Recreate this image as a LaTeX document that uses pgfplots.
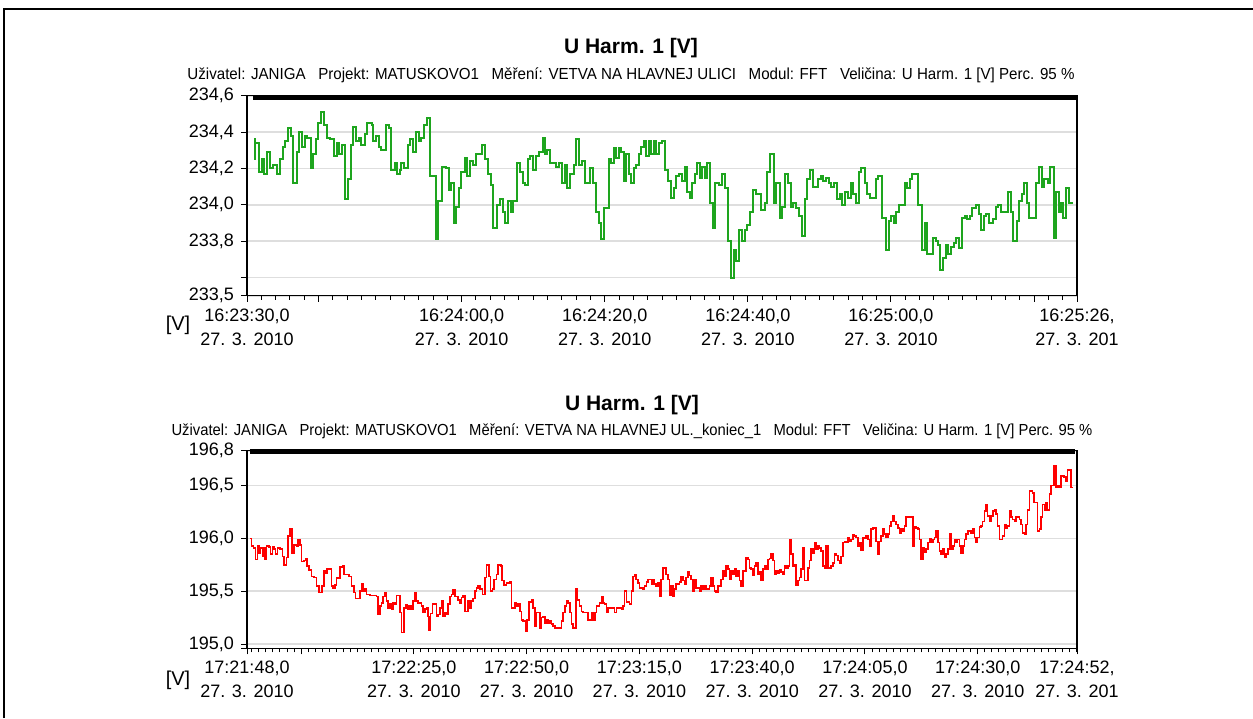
\documentclass[border=0pt]{standalone}
\usepackage{pgfplots}
\pgfplotsset{compat=1.18}
\usepackage{fontspec}
\setmainfont{Liberation Sans}

\definecolor{hgreen}{RGB}{30,165,30}
\definecolor{hred}{RGB}{255,0,0}
\definecolor{gridgray}{RGB}{222,222,222}

% 1 px of the reference = 0.5pt
\pgfplotsset{
  harm/.style={
    anchor=south west, scale only axis, width=415pt,
    tick align=outside, tick pos=left,
    major tick length=3pt, minor tick length=2pt,
    every tick/.append style={black, line width=0.5pt},
    every minor tick/.append style={black, line width=0.5pt},
    axis line style={black, line width=0.6pt},
    ymajorgrids, major grid style={gridgray, line width=0.8pt},
    tick label style={font=\fontsize{9}{12}\selectfont},
    xticklabel style={align=center},
    clip=false,
  }
}

\begin{document}
\begin{tikzpicture}
\useasboundingbox (0,0) rectangle (626.5pt,-359pt);
\draw[line width=1pt] (2pt,-359pt) -- (2pt,-4.5pt) -- (626.5pt,-4.5pt);

% ---------- top chart ----------
\node[font=\bfseries\fontsize{10.5}{12}\selectfont] at (315.5pt,-24pt) {U Harm. 1 [V]};
\node[font=\fontsize{8}{10}\selectfont] at (315.5pt,-37.5pt)
  {\scalebox{0.945}[1]{Uživatel: JANIGA\ \ \ Projekt: MATUSKOVO1\ \ \ Měření: VETVA NA HLAVNEJ ULICI\ \ \ Modul: FFT\ \ \ Veličina: U Harm. 1 [V] Perc. 95 \%}};
\node[font=\fontsize{10}{12}\selectfont] at (89pt,-162.5pt) {[V]};

\begin{axis}[harm,
  at={(123.5pt,-147.85pt)}, height=100pt,
  xmin=0, xmax=116, ymin=233.5, ymax=234.6,
  xtick={0,10,30,50,70,90,110,116},
  xticklabels={{16:23:30,0\\27. 3. 2010},{},{16:24:00,0\\27. 3. 2010},{16:24:20,0\\27. 3. 2010},{16:24:40,0\\27. 3. 2010},{16:25:00,0\\27. 3. 2010},{},{16:25:26,\\27. 3. 201}},
  minor xtick={2,4,...,114},
  ytick={233.5,233.6,233.8,234.0,234.2,234.4,234.6},
  yticklabels={{233,5},{},{233,8},{234,0},{234,2},{234,4},{234,6}},
]
\addplot[black, line width=2.5pt] coordinates {(0.8,234.59) (116,234.59)};
\addplot[hgreen, line width=1pt, const plot] coordinates {
(1.02,234.36) (1.10,234.25) (1.16,234.34) (1.67,234.18) (2.05,234.25) (2.42,234.17) (2.74,234.29) (3.21,234.20) (3.58,234.22) (4.14,234.17)
(4.60,234.25) (4.98,234.32) (5.30,234.35) (5.77,234.42) (6.09,234.38) (6.47,234.12) (6.93,234.29) (7.30,234.40) (7.67,234.32) (8.09,234.38)
(8.42,234.37) (8.88,234.20) (9.26,234.28) (9.58,234.36) (9.95,234.45) (10.28,234.51) (10.74,234.44) (11.12,234.37) (11.58,234.36) (12.14,234.27)
(12.51,234.34) (12.88,234.28) (13.21,234.33) (13.67,234.03) (14.14,234.14) (14.51,234.33) (14.84,234.43) (15.30,234.35) (15.67,234.37) (16.00,234.33)
(16.47,234.39) (16.79,234.45) (17.40,234.44) (17.63,234.35) (18.09,234.38) (18.47,234.32) (18.79,234.30) (19.49,234.44) (19.86,234.42) (20.19,234.19)
(20.65,234.23) (20.98,234.17) (21.35,234.19) (21.58,234.23) (21.95,234.20) (22.51,234.33) (22.84,234.36) (23.21,234.29) (23.67,234.40) (24.00,234.35)
(24.37,234.37) (24.74,234.44) (25.16,234.48) (25.53,234.16) (26.47,233.81) (26.74,234.02) (27.30,234.21) (27.86,234.20) (28.19,234.08) (28.56,234.12)
(28.88,233.90) (29.26,233.99) (29.63,234.09) (29.95,234.18) (30.42,234.26) (30.74,234.16) (31.21,234.24) (31.58,234.22) (32.05,234.28)
(32.78,234.33) (33.25,234.25) (33.71,234.17) (34.04,234.11) (34.41,233.87) (34.97,234.00) (35.34,234.03) (35.71,233.96) (36.04,233.90) (36.50,234.02)
(36.83,233.96) (37.20,234.02) (37.67,234.23) (38.13,234.18) (38.51,234.12) (38.83,234.11) (39.30,234.25) (39.62,234.27) (39.99,234.19) (40.37,234.27)
(40.83,234.29) (41.30,234.37) (41.62,234.28) (41.95,234.30) (42.32,234.23) (42.79,234.23) (43.25,234.21) (43.63,234.23) (44.09,234.12) (44.42,234.22)
(44.79,234.09) (45.21,234.17) (45.68,234.22) (46.05,234.36) (46.42,234.22) (46.75,234.24) (47.21,234.12) (47.91,234.20) (48.38,234.12) (48.75,233.96)
(49.17,233.90) (49.45,233.81) (49.91,233.98) (50.61,234.25) (50.94,234.23) (51.31,234.31) (51.63,234.26) (52.01,234.31) (52.33,234.29) (52.71,234.13)
(53.03,234.28) (53.36,234.17) (53.73,234.12) (54.05,234.20) (54.43,234.22) (54.80,234.28) (55.13,234.32) (55.45,234.35) (55.82,234.27) (56.20,234.35)
(56.52,234.28) (56.85,234.35) (57.22,234.28) (57.59,234.34) (58.01,234.35) (58.48,234.19) (58.85,234.13) (59.22,234.04) (59.64,234.09) (60.01,234.16)
(60.39,234.17) (60.81,234.13) (61.18,234.21) (61.55,234.07) (61.88,234.04) (62.25,234.12) (62.57,234.17) (62.95,234.23) (63.27,234.15) (63.60,234.21)
(63.97,234.15) (64.34,234.23) (64.67,234.01) (65.14,233.87) (65.46,234.12) (65.93,234.11) (66.39,234.17) (66.76,234.09) (67.23,233.80) (67.70,233.60)
(68.07,233.75) (68.39,233.69) (68.72,233.86) (69.23,233.80) (69.56,233.86) (69.88,233.89) (70.35,233.96) (70.72,234.08) (71.09,234.06) (71.89,233.97)
(72.35,234.01) (72.72,234.18) (73.05,234.28) (73.65,234.01) (73.98,234.12) (74.45,233.93) (74.77,233.99) (75.14,234.17) (75.61,234.12) (75.98,233.99)
(76.31,234.01) (76.77,233.98)
(77.14,233.94) (77.56,233.83) (77.94,234.03) (78.26,234.14) (78.73,234.19) (79.10,234.10) (79.80,234.14) (80.17,234.16) (80.50,234.13) (80.96,234.15)
(81.33,234.12) (81.66,234.10) (82.03,234.12) (82.45,234.03) (82.82,234.06) (83.15,234.00) (83.52,234.07) (83.99,234.04) (84.36,234.12) (84.69,234.06)
(85.15,234.01) (85.52,234.18) (85.85,234.20) (86.31,234.12) (86.69,234.06) (87.01,234.04) (87.85,234.14) (88.18,234.16) (88.78,233.93) (89.25,233.75)
(89.67,233.91) (90.04,233.94) (90.41,233.90) (90.74,233.96) (91.11,234.00) (91.90,234.12) (92.27,234.09) (92.60,234.14) (92.97,234.17) (93.76,234.00)
(94.32,233.75) (94.70,233.90) (95.07,233.73) (95.86,233.82) (96.23,233.80) (96.56,233.78) (96.88,233.64) (97.26,233.71) (97.63,233.78) (97.95,233.73)
(98.42,233.77) (98.75,233.79) (99.12,233.82) (99.49,233.76) (99.91,233.93) (100.28,233.94) (100.61,233.92) (100.98,233.94) (101.35,233.98) (101.82,234.00)
(102.24,233.95) (102.61,233.86) (102.98,233.94) (103.31,233.95) (103.77,233.90) (104.24,233.92) (104.61,233.99) (104.94,234.00) (105.40,233.96) (106.33,234.07)
(106.80,233.96) (107.12,233.80) (107.59,233.91) (107.96,234.02) (108.29,234.06) (108.66,234.12) (108.99,234.01) (109.36,233.93) (110.29,234.12) (110.66,234.21)
(111.08,234.10) (111.45,234.14) (111.92,234.12) (112.29,234.21) (112.76,233.82) (113.08,234.07) (113.46,233.96) (113.78,234.01) (114.11,233.93) (114.48,234.09)
(114.85,234.01) (115.41,234.01)
};
\end{axis}

% ---------- bottom chart ----------
\node[font=\bfseries\fontsize{10.5}{12}\selectfont] at (316pt,-202.5pt) {U Harm. 1 [V]};
\node[font=\fontsize{8}{10}\selectfont] at (316pt,-215.5pt)
  {\scalebox{0.925}[1]{Uživatel: JANIGA\ \ \ Projekt: MATUSKOVO1\ \ \ Měření: VETVA NA HLAVNEJ UL.\_koniec\_1\ \ \ Modul: FFT\ \ \ Veličina: U Harm. 1 [V] Perc. 95 \%}};
\node[font=\fontsize{10}{12}\selectfont] at (89pt,-340pt) {[V]};

\begin{axis}[harm,
  at={(123.5pt,-324.15pt)}, height=98.8pt,
  xmin=0, xmax=184, ymin=194.96, ymax=196.83,
  xtick={0,12,37,62,87,112,137,162,184},
  xticklabels={{17:21:48,0\\27. 3. 2010},{},{17:22:25,0\\27. 3. 2010},{17:22:50,0\\27. 3. 2010},{17:23:15,0\\27. 3. 2010},{17:23:40,0\\27. 3. 2010},{17:24:05,0\\27. 3. 2010},{17:24:30,0\\27. 3. 2010},{17:24:52,\\27. 3. 201}},
  minor xtick={1.0625,2.625,...,184},
  ytick={194.96,195.0,195.5,196.0,196.5,196.83},
  yticklabels={{},{195,0},{195,5},{196,0},{196,5},{196,8}},
]
\addplot[black, line width=2.5pt] coordinates {(0.66,196.82) (183.6,196.82)};
\addplot[hred, line width=0.8pt, const plot] coordinates {
(0.66,196.00) (1.03,195.93) (1.40,195.91) (1.92,195.80) (2.29,195.93) (2.66,195.86) (3.03,195.91) (3.40,195.83) (3.77,195.91) (3.99,195.80)
(4.36,195.93) (4.87,195.92) (5.24,195.85) (5.61,195.92) (5.98,195.90) (6.35,195.85) (6.72,195.91) (7.31,195.90) (7.83,195.83) (8.19,195.75)
(8.79,195.82) (9.15,196.02) (9.52,196.09) (10.04,195.86) (10.41,195.94) (11.00,195.93) (11.37,195.99) (11.74,195.94) (12.11,195.78) (12.62,195.79)
(12.99,195.81) (13.36,195.74) (13.81,195.70) (14.32,195.64) (14.84,195.63) (15.43,195.55) (15.95,195.49) (16.69,195.55) (17.05,195.69) (17.42,195.67)
(17.79,195.71) (18.75,195.55) (19.12,195.53) (19.49,195.56) (19.86,195.63) (20.23,195.62) (20.60,195.73) (21.19,195.74) (21.56,195.66) (22.67,195.64)
(23.18,195.55) (23.70,195.49) (24.07,195.43) (25.03,195.50) (25.40,195.57) (25.77,195.50) (26.14,195.52) (26.50,195.47) (27.24,195.46) (28.72,195.45)
(29.09,195.28) (29.46,195.36) (29.83,195.39) (30.20,195.45) (30.57,195.49) (30.94,195.41) (31.31,195.34) (31.68,195.38) (32.05,195.33) (32.42,195.39)
(32.79,195.38) (33.15,195.46) (33.89,195.30) (34.26,195.11) (34.77,195.34) (35.22,195.37) (35.59,195.33) (35.95,195.36) (36.32,195.33) (36.84,195.41)
(37.21,195.49) (37.58,195.41) (37.95,195.39) (38.69,195.36) (39.05,195.30) (39.42,195.33) (39.79,195.34) (40.16,195.26) (40.38,195.13) (40.68,195.29)
(41.12,195.38) (42.01,195.26) (42.38,195.28) (42.75,195.34) (43.11,195.41) (43.48,195.26) (43.85,195.30) (44.22,195.28) (44.59,195.38) (44.96,195.45)
(45.33,195.47) (45.70,195.51) (46.07,195.45) (46.81,195.42) (47.18,195.39) (47.54,195.44) (47.91,195.46) (48.28,195.31) (49.02,195.41) (49.39,195.34)
(49.76,195.41) (50.13,195.43) (50.50,195.50) (50.87,195.53)
(51.24,195.55) (51.60,195.52) (52.20,195.47) (52.71,195.63) (53.08,195.75) (53.60,195.64) (53.97,195.50) (54.41,195.52) (54.71,195.61) (55.30,195.66)
(55.67,195.75) (56.26,195.74) (56.55,195.60) (57.00,195.56) (57.51,195.58) (58.25,195.59) (58.62,195.34) (59.36,195.39) (59.73,195.36) (60.09,195.38)
(60.46,195.31) (60.83,195.23) (61.20,195.22) (61.72,195.12) (62.09,195.23) (62.53,195.40) (63.05,195.42) (63.42,195.34) (63.79,195.17) (64.15,195.30)
(64.89,195.15) (65.26,195.25) (65.63,195.26) (66.00,195.20) (66.37,195.23) (66.74,195.20) (67.11,195.22) (67.48,195.19) (67.85,195.17) (68.22,195.15)
(69.69,195.22) (70.06,195.30) (70.43,195.36) (70.80,195.41) (71.17,195.39) (71.54,195.30) (71.91,195.19) (72.28,195.15) (72.87,195.52) (73.16,195.42)
(73.75,195.36) (74.12,195.31) (74.49,195.30) (75.60,195.23) (76.34,195.30) (76.71,195.23) (77.08,195.30) (77.45,195.36) (78.18,195.39) (78.55,195.45)
(78.92,195.39) (79.29,195.38) (79.66,195.30) (80.03,195.34) (81.51,195.30) (81.88,195.34) (82.98,195.33) (83.35,195.36) (83.72,195.50) (84.09,195.40)
(84.83,195.38) (85.20,195.50) (85.57,195.64) (85.93,195.66) (86.30,195.61) (86.67,195.58) (87.04,195.53) (87.78,195.52) (88.15,195.55) (88.52,195.59)
(88.89,195.61) (89.63,195.57) (89.99,195.61) (90.36,195.57) (90.73,195.55) (91.10,195.58) (91.47,195.45) (91.84,195.61) (92.21,195.72) (92.95,195.66)
(93.32,195.61) (93.69,195.46) (94.06,195.55) (94.43,195.45) (94.79,195.52) (95.16,195.57) (95.90,195.59) (96.27,195.64) (96.64,195.60) (97.01,195.57)
(97.38,195.63) (97.75,195.68) (98.12,195.65) (98.49,195.61) (98.86,195.50) (99.22,195.61) (99.59,195.53) (100.33,195.50) (100.70,195.55) (101.07,195.52)
(101.44,195.55) (101.81,195.52) (102.55,195.55) (102.92,195.63) (103.29,195.55) (103.65,195.50) (104.02,195.49) (104.39,195.55) (105.13,195.61) (105.50,195.69)
(105.87,195.64) (106.24,195.74) (106.61,195.71) (106.98,195.61) (107.35,195.69) (107.71,195.66) (108.08,195.71) (108.45,195.64) (108.82,195.69) (109.19,195.60)
(109.56,195.55) (109.93,195.69) (110.67,195.82) (111.04,195.80) (111.41,195.72) (111.78,195.71) (112.14,195.65) (112.51,195.74) (112.88,195.77) (113.25,195.66)
(113.62,195.68) (113.99,195.60) (114.36,195.71) (114.73,195.74) (115.10,195.71) (115.47,195.80) (115.84,195.81) (116.21,195.85) (116.57,195.79) (116.94,195.66)
(117.31,195.69) (117.68,195.67) (118.05,195.70) (118.42,195.68) (118.79,195.66) (119.16,195.74) (119.53,195.72) (119.90,195.74)
(120.27,195.99) (120.64,195.85) (121.01,195.74) (121.38,195.75) (121.75,195.56) (122.12,195.60) (122.49,195.63) (122.85,195.71) (123.22,195.91) (123.59,195.60)
(124.33,195.72) (124.70,195.79) (125.07,195.90) (125.44,195.86) (125.81,195.96) (126.18,195.90) (126.55,195.93) (126.91,195.91) (127.28,195.88) (127.65,195.74)
(128.02,195.72) (128.39,195.93) (128.76,195.72) (129.50,195.74) (129.87,195.77) (130.24,195.85) (130.61,195.84) (130.97,195.79) (131.34,195.77) (131.71,195.83)
(132.08,195.96) (132.45,195.97) (132.82,195.96) (133.19,196.01) (133.56,195.97) (133.93,195.99) (134.30,196.03) (134.67,196.02) (135.03,196.01) (135.40,195.93)
(135.77,195.96) (136.14,195.89) (136.51,196.01) (136.88,196.00) (137.25,196.02) (137.62,195.99) (137.99,195.93) (138.36,196.09) (138.73,196.10) (139.47,195.97)
(139.83,195.85) (140.20,195.97) (140.57,196.02) (140.94,196.09) (141.31,196.04) (141.68,196.01) (142.05,196.04) (142.42,196.12) (142.79,196.16) (143.16,196.21)
(143.53,196.16) (143.90,196.13) (144.26,196.10) (144.63,196.05) (145.00,196.09) (145.37,196.07) (145.74,196.12) (146.11,196.20) (147.59,195.93) (147.96,196.11)
(148.33,196.10) (148.69,196.09) (149.06,195.99) (149.43,195.80) (149.80,195.91) (150.17,195.87) (150.54,195.90) (150.91,195.96) (151.28,196.00) (151.65,195.96)
(152.02,195.99) (152.39,196.01) (152.76,196.07) (153.12,195.96) (153.49,195.88) (153.86,195.85) (154.23,195.90) (154.60,195.82) (154.97,195.85) (155.34,195.90)
(155.71,196.04) (156.08,195.90) (156.45,195.93) (156.82,195.99) (157.19,195.96) (157.55,195.99) (157.92,195.93) (158.29,195.86) (158.66,195.93) (159.03,195.99)
(159.40,196.04) (159.77,196.07) (160.51,196.05) (160.88,196.09) (161.25,196.01) (161.62,195.96) (161.98,196.01) (162.35,196.11) (162.72,196.12) (163.09,196.16)
(163.46,196.26) (163.83,196.32) (164.20,196.21) (164.57,196.16) (164.94,196.21) (165.31,196.26) (165.68,196.27) (166.04,196.23) (166.41,196.12) (166.78,195.99)
(167.52,196.02) (167.89,196.13) (168.26,196.10) (168.63,196.12) (169.00,196.26) (169.37,196.20) (169.74,196.18) (170.11,196.16) (170.47,196.20) (171.21,196.18)
(171.58,196.13) (171.95,196.05) (172.32,196.04) (172.69,196.13) (173.06,196.27) (173.43,196.45) (174.17,196.43) (174.53,196.34) (175.27,196.07) (175.64,196.09)
(176.01,196.20) (176.38,196.32) (176.75,196.27) (177.12,196.34) (177.49,196.27) (177.86,196.42) (178.23,196.50) (178.96,196.69) (179.33,196.48) (179.70,196.50)
(180.07,196.48) (180.44,196.59) (181.18,196.58) (181.55,196.54) (181.92,196.65) (182.66,196.48) (183.02,196.48)
};
\end{axis}
\end{tikzpicture}
\end{document}
